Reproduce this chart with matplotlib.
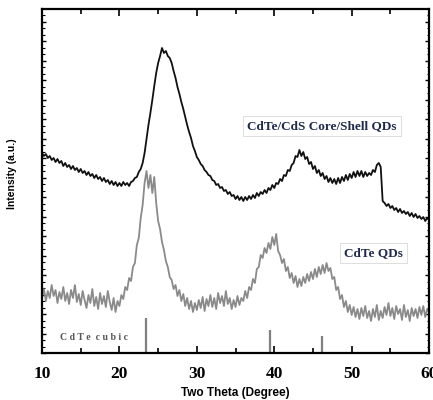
import numpy as np
import matplotlib
matplotlib.use("Agg")
import matplotlib.pyplot as plt
from matplotlib.ticker import MultipleLocator

# two theta grid (degree), 0.25 step
two_theta = np.arange(10.0, 60.01, 0.25)

# CdTe/CdS core/shell QDs (a.u.)
core_shell = [
    200, 197, 199, 195, 197, 193, 195, 191, 194, 190, 192, 187, 190, 186, 188, 184,
    187, 183, 185, 181, 184, 180, 182, 178, 181, 177, 179, 175, 178, 174, 176, 172,
    175, 171, 173, 169, 172, 168, 171, 167, 170, 167, 171, 168, 170, 167, 171, 172,
    175, 176, 181, 184, 190, 200, 214, 228, 240, 253, 267, 280, 290, 297, 305, 300,
    302, 297, 295, 290, 282, 275, 266, 259, 251, 244, 236, 228, 221, 215, 207, 202,
    196, 193, 189, 187, 183, 181, 178, 177, 173, 172, 168, 169, 165, 166, 162, 163,
    159, 161, 157, 158, 154, 157, 153, 156, 152, 156, 153, 157, 154, 158, 155, 160,
    157, 161, 159, 163, 160, 165, 163, 168, 165, 170, 169, 174, 172, 178, 177, 183,
    182, 188, 190, 197, 196, 203, 197, 201, 194, 196, 189, 191, 184, 187, 180, 183,
    177, 180, 174, 177, 171, 175, 170, 174, 169, 175, 170, 176, 172, 178, 173, 179,
    175, 181, 176, 182, 177, 182, 176, 181, 177, 180, 178, 183, 181, 188, 190, 186,
    152, 150, 147, 149, 145, 147, 143, 145, 141, 144, 140, 142, 139, 141, 137, 140,
    136, 139, 135, 137, 134, 136, 132, 135, 133,
]

# CdTe QDs (a.u.)
cdte = [
    56, 64, 52, 62, 55, 68, 57, 63, 50, 61, 54, 66, 52, 60, 49, 63,
    55, 68, 51, 59, 48, 62, 53, 45, 58, 50, 64, 47, 56, 44, 60, 49,
    57, 46, 62, 51, 43, 55, 41, 52, 47, 58, 54, 66, 63, 75, 72, 86,
    90, 108, 115, 135, 148, 170, 182, 165, 178, 160, 176, 150, 132, 124, 111, 103,
    92, 86, 76, 73, 64, 68, 57, 63, 52, 59, 47, 55, 44, 52, 41, 50,
    43, 53, 45, 56, 42, 54, 47, 58, 46, 55, 44, 60, 50, 57, 47, 62,
    49, 55, 44, 53, 46, 57, 48, 55, 52, 62, 55, 66, 63, 74, 70, 84,
    86, 98, 95, 105, 100, 110, 104, 116, 108, 119, 102, 98, 90, 94, 82, 86,
    75, 80, 70, 77, 66, 74, 67, 76, 70, 79, 72, 81, 74, 84, 76, 86,
    79, 88, 80, 90, 82, 85, 74, 76, 63, 66, 54, 58, 46, 52, 41, 48,
    38, 46, 36, 44, 34, 45, 37, 47, 35, 42, 32, 44, 36, 48, 33, 42,
    35, 46, 38, 50, 37, 45, 34, 47, 39, 44, 33, 48, 36, 43, 32, 45,
    37, 44, 35, 46, 38, 47, 36, 44, 41,
]

# CdTe cubic reference lines
ref_pos = [23.4, 39.5, 46.2]
ref_height = [35, 23, 17]

fig = plt.figure(figsize=(4.33, 4.0), dpi=100)
ax = fig.add_axes([0.097, 0.1175, 0.894, 0.86])

ax.plot(two_theta, core_shell, color="#111111", lw=1.3)
ax.plot(two_theta, cdte, color="#8a8a8a", lw=1.3)
ax.vlines(ref_pos, 0, ref_height, color="#808080", lw=1.6)

ax.set_xlim(10, 60)
ax.set_ylim(0, 344)

ax.xaxis.set_major_locator(MultipleLocator(10))
ax.xaxis.set_minor_locator(MultipleLocator(5))
ax.yaxis.set_major_locator(MultipleLocator(19.5))
ax.yaxis.set_minor_locator(MultipleLocator(6.5))
ax.tick_params(which="both", direction="in", top=True, right=True, width=1.2)
ax.tick_params(axis="x", which="major", length=5)
ax.tick_params(axis="x", which="minor", length=3.5)
ax.tick_params(axis="y", which="major", length=3, width=1)
ax.tick_params(axis="y", which="minor", length=1.8, width=0.8)
ax.tick_params(axis="x", pad=9)
ax.set_yticklabels([])
for lab in ax.get_xticklabels():
    lab.set_family("Liberation Serif")
    lab.set_fontweight("bold")
    lab.set_fontsize(12.5)

for s in ax.spines.values():
    s.set_linewidth(1.6)

ax.set_xlabel("Two Theta (Degree)", family="Liberation Sans", fontweight="bold",
              fontsize=8.5, labelpad=4)
ax.set_ylabel("Intensity (a.u.)", family="Liberation Sans", fontweight="bold",
              fontsize=7.5)
ax.yaxis.set_label_coords(-0.065, 0.52)

box = dict(boxstyle="square,pad=0.3", facecolor="white", edgecolor="#d8d8d8", lw=0.6)
ax.text(36.5, 227, "CdTe/CdS Core/Shell QDs", family="Liberation Serif",
        fontweight="bold", fontsize=9.5, color="#1e2a4a", va="center", bbox=box)
ax.text(49.0, 100, "CdTe QDs", family="Liberation Serif", fontweight="bold",
        fontsize=9.5, color="#1e2a4a", va="center", bbox=box)
ax.text(12.3, 16, "C d T e  c u b i c", family="Liberation Serif",
        fontweight="bold", fontsize=7, color="#555555", va="center")

fig.savefig("out.png", dpi=100)
